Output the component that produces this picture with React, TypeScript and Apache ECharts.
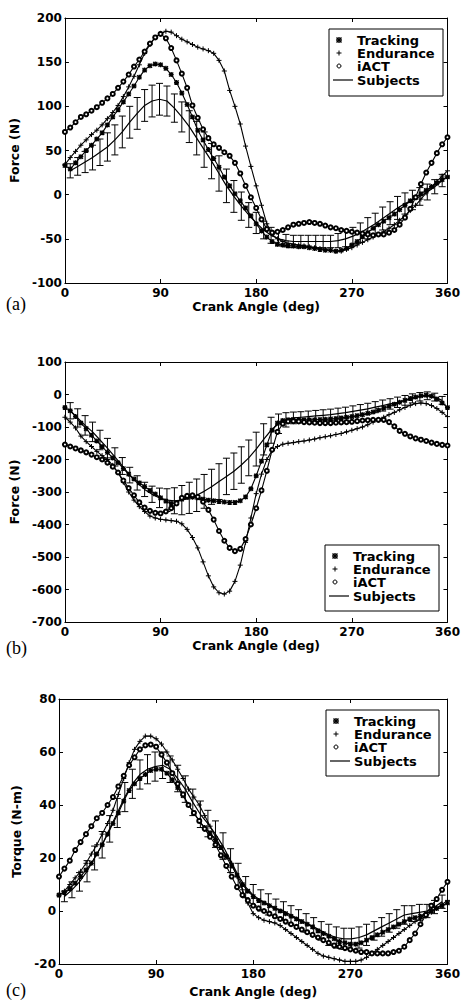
import React, { useEffect, useRef } from "react";
import * as echarts from "echarts";

// ---------- data ----------
const ANGLES = [0,5,10,15,20,25,30,35,40,45,50,55,60,65,70,75,80,85,90,95,100,105,110,115,120,125,130,135,140,145,150,155,160,165,170,175,180,185,190,195,200,205,210,215,220,225,230,235,240,245,250,255,260,265,270,275,280,285,290,295,300,305,310,315,320,325,330,335,340,345,350,355,360];
const SUBJ_ANGLES = [5,12,19,26,33,40,47,54,61,68,75,82,89,96,103,110,117,124,131,138,145,152,159,166,173,180,187,194,201,208,215,222,229,236,243,250,257,264,271,278,285,292,299,306,313,320,327,334,341,348,355];
const LEGEND_NAMES = ["Tracking", "Endurance", "iACT", "Subjects"];

// (a) Force (N), tangential
const TRACK_A = [33,29,36,43,50,56,63,70,79,88,96,105,114,123,133,141,146,148,147,143,136,127,115,102,88,73,62,51,41,31,20,10,1,-7,-15,-24,-33,-41,-48,-53,-56,-57,-58,-58,-59,-59,-60,-61,-62,-63,-63,-64,-63,-61,-57,-53,-48,-43,-38,-34,-30,-26,-22,-17,-12,-7,-3,1,5,9,13,17,20];
const ENDUR_A = [34,42,49,56,62,68,73,79,86,93,101,111,122,134,147,160,170,178,182,185,184,180,176,173,170,167,165,163,160,152,140,118,100,80,55,32,10,-12,-33,-45,-50,-53,-55,-56,-57,-58,-59,-60,-61,-62,-63,-64,-64,-62,-60,-57,-54,-51,-48,-45,-42,-38,-34,-29,-24,-18,-12,-5,2,9,15,21,27];
const IACT_A = [71,76,82,88,91,95,99,104,109,114,121,128,136,145,153,162,171,178,182,177,166,152,137,121,101,87,74,64,57,53,48,44,36,24,10,-3,-15,-28,-39,-43,-42,-40,-37,-34,-33,-32,-31,-32,-33,-35,-37,-38,-40,-41,-42,-43,-44,-45,-46,-45,-45,-43,-40,-34,-26,-16,-3,12,25,36,47,57,65];
const SUBJ_MEAN_A = [27,32,37,42,48,54,62,71,82,92,101,106,108,106,98,88,77,64,51,38,24,10,-2,-13,-23,-32,-40,-46,-50,-52,-53,-53,-53,-53,-53,-53,-52,-50,-47,-43,-38,-33,-27,-21,-15,-10,-6,-2,3,9,16];
const SUBJ_SD_A = [8,10,12,14,15,16,17,18,18,18,18,18,18,17,16,17,18,19,20,20,20,19,18,16,14,12,10,9,8,7,7,7,7,7,7,7,8,9,10,11,12,12,13,13,13,12,11,10,9,8,7];

// (b) Force (N), radial
const TRACK_B = [-40,-50,-68,-88,-105,-125,-143,-160,-178,-195,-210,-228,-245,-260,-272,-283,-295,-306,-318,-328,-335,-333,-322,-317,-316,-318,-322,-325,-327,-329,-331,-332,-332,-327,-315,-290,-250,-205,-155,-110,-88,-80,-78,-77,-77,-78,-78,-78,-77,-76,-75,-74,-72,-70,-68,-65,-62,-58,-54,-48,-42,-36,-30,-24,-18,-12,-8,-4,-2,-5,-14,-26,-40];
const ENDUR_B = [-70,-85,-103,-128,-145,-160,-175,-188,-200,-218,-240,-270,-300,-325,-345,-360,-374,-380,-384,-386,-388,-390,-398,-415,-440,-472,-515,-558,-592,-610,-614,-605,-575,-525,-455,-380,-305,-245,-200,-172,-160,-153,-150,-148,-145,-143,-140,-137,-133,-130,-127,-123,-120,-115,-110,-105,-100,-93,-85,-77,-70,-62,-55,-47,-40,-33,-28,-26,-28,-34,-43,-55,-68];
const IACT_B = [-154,-160,-166,-172,-178,-185,-193,-200,-210,-222,-240,-265,-288,-310,-332,-348,-358,-364,-366,-360,-350,-335,-318,-312,-310,-315,-330,-355,-385,-420,-450,-472,-482,-475,-445,-400,-350,-295,-235,-170,-115,-90,-83,-82,-83,-85,-86,-87,-88,-88,-88,-87,-86,-85,-84,-82,-80,-79,-78,-78,-78,-85,-98,-112,-121,-129,-135,-139,-143,-148,-152,-155,-157];
const SUBJ_MEAN_B = [-50,-72,-95,-115,-140,-165,-192,-220,-248,-272,-292,-307,-318,-325,-327,-325,-318,-310,-298,-284,-268,-252,-236,-217,-195,-168,-138,-110,-90,-78,-72,-70,-68,-66,-64,-62,-59,-56,-52,-48,-44,-39,-34,-29,-24,-18,-12,-7,-4,-8,-18];
const SUBJ_SD_B = [25,28,30,30,30,30,28,26,24,22,22,25,30,35,40,45,48,50,52,54,55,56,56,56,55,52,48,40,30,22,18,17,17,17,17,17,17,17,17,17,17,17,17,16,16,15,14,13,12,12,12];

// (c) Torque (N-m)
const TRACK_C = [6,7,8.5,10.5,13,15.5,18,21.5,25,29,33,37,41.5,45.5,48,50,51.5,53,53.5,53.5,52,49.5,46.5,43.5,40,37,34,31.5,29.5,27,24,20.5,17,13.5,10,7.5,5.5,4,3,2,1,0,-1,-2,-3,-4,-5,-6,-7.5,-8.5,-9.5,-10.5,-11.5,-12,-12.5,-12.5,-12,-11,-10,-9,-8,-7,-6,-5,-4,-3,-2.5,-2,-1,0,1,2,3];
const ENDUR_C = [6,7.5,10,12.5,15,18,21.5,25,29,33,38,44,50,56,61,64,66,66,65,63,60,57,53.5,50,46,43,40,36,32,28,24,21,18,13,8,3,-1,-2.5,-3.5,-4,-4.5,-5.5,-7,-8.5,-10,-11.5,-13,-14.5,-16,-17,-17.5,-18,-18.5,-19,-19,-19,-18.5,-17.5,-16,-14.5,-13,-11.5,-10,-8.5,-7,-5.5,-4,-3,-2,-0.5,1,2.5,4];
const IACT_C = [13,16,19,23,26,29,32,35,37,40,43,47,51,55,58,61,62.5,62.8,62,59,56,52,48,44,40,37,34,31,28,25,21,17,13,9,6,4,2,1,0,-1,-2,-3,-4,-5,-6,-7,-8,-9,-10,-11,-12,-13,-13.5,-14,-14.5,-15,-15.5,-15.5,-16,-16,-16,-16,-15.5,-15,-13.5,-11,-8.5,-5,-1.5,2,4.5,8,11];
const SUBJ_MEAN_C = [5.5,8,11,15,20,25,31,37,43,48,51.5,53.5,54.5,55,53.5,50,46,41,36.5,33,29,24.5,19,13.5,9,6,4,2.5,1,0,-1.5,-3,-4.5,-6,-7.5,-9,-10,-10.5,-10.5,-10,-9,-7.5,-6,-4.5,-3,-1.5,-1,-0.5,0,1.5,3.5];
const SUBJ_SD_C = [2,3,3.5,4,4.5,5,5,5.5,5.5,5.5,5.5,5.5,5.5,5,5,5,5,5,5,5,5,5,4.5,4.5,4,4,4,4,3.5,3.5,3.5,3.5,3.5,3.5,3.5,4,4,4,4,4,4,3.5,3.5,3.5,3.5,3.5,3,3,2.5,2.5,2.5];

const PANELS = [
  { tag: "(a)", yName: "Force (N)", yMin: -100, yMax: 200, yStep: 50, track: TRACK_A, endur: ENDUR_A, iact: IACT_A, mean: SUBJ_MEAN_A, sd: SUBJ_SD_A },
  { tag: "(b)", yName: "Force (N)", yMin: -700, yMax: 100, yStep: 100, track: TRACK_B, endur: ENDUR_B, iact: IACT_B, mean: SUBJ_MEAN_B, sd: SUBJ_SD_B },
  { tag: "(c)", yName: "Torque (N-m)", yMin: -20, yMax: 80, yStep: 20, track: TRACK_C, endur: ENDUR_C, iact: IACT_C, mean: SUBJ_MEAN_C, sd: SUBJ_SD_C },
];

// ---------- layout ----------
const LAYOUT = [
  { grid: { left: 63, top: 18, width: 389, height: 265 }, xNameGap: 17, yNameGap: 37, tagY: 304, legend: { x: 329, y: 29, w: 114, h: 67 } },
  { grid: { left: 62, top: 362, width: 390, height: 260 }, xNameGap: 17, yNameGap: 37, tagY: 648, legend: { x: 325, y: 545, w: 114, h: 66 } },
  { grid: { left: 59, top: 699, width: 389, height: 265 }, xNameGap: 21, yNameGap: 28, tagY: 990, legend: { x: 326, y: 710, w: 113, h: 66 } },
];

const FONT = "DejaVu Sans";
const SYM_STAR = "path://M0,0L10,10M10,0L0,10M5,-1L5,11M-1,5L11,5";
const SYM_PLUS = "path://M5,0L5,10M0,5L10,5";

const pairs = (xs: number[], ys: number[]) => xs.map((x, i) => [x, ys[i]]);

function legendGroup(L: { x: number; y: number; w: number; h: number }) {
  const rows = [11, 24, 37, 51];
  const cx = 10;
  const ln = (x1: number, y1: number, x2: number, y2: number, w = 1) => ({
    type: "line", shape: { x1, y1, x2, y2 }, style: { stroke: "#000", lineWidth: w },
  });
  const children: any[] = [
    { type: "rect", shape: { x: 0, y: 0, width: L.w, height: L.h }, style: { fill: "#fff", stroke: "#000", lineWidth: 1 } },
  ];
  const r0 = rows[0], r1 = rows[1], r2 = rows[2], r3 = rows[3];
  children.push(ln(cx - 2.5, r0 - 2.5, cx + 2.5, r0 + 2.5, 1.4));
  children.push(ln(cx + 2.5, r0 - 2.5, cx - 2.5, r0 + 2.5, 1.4));
  children.push(ln(cx, r0 - 3, cx, r0 + 3, 1.4));
  children.push(ln(cx - 3, r0, cx + 3, r0, 1.4));
  children.push(ln(cx - 2.5, r1, cx + 2.5, r1));
  children.push(ln(cx, r1 - 2.5, cx, r1 + 2.5));
  children.push({ type: "circle", shape: { cx, cy: r2, r: 2 }, style: { fill: "#fff", stroke: "#000", lineWidth: 1 } });
  children.push(ln(4, r3, 24, r3, 1.2));
  LEGEND_NAMES.forEach((name, i) => {
    children.push({
      type: "text", x: 28, y: rows[i],
      style: { text: name, fill: "#000", fontFamily: FONT, fontWeight: "bold", fontSize: 13, align: "left", verticalAlign: "middle" },
    });
  });
  return { type: "group", x: L.x, y: L.y, z: 100, children };
}

export default function App() {
  const ref = useRef<HTMLDivElement>(null);
  useEffect(() => {
    if (!ref.current) return;
    const chart = echarts.init(ref.current, undefined, { renderer: "svg" });
    const labelStyle = { fontFamily: FONT, fontWeight: "bold" as const, fontSize: 12, color: "#000" };
    const nameStyle = { fontFamily: FONT, fontWeight: "bold" as const, fontSize: 12.5, color: "#000" };
    const axisLine = { show: true, onZero: false, lineStyle: { color: "#000", width: 1 } };
    const tick = { show: true, inside: true, length: 4, lineStyle: { color: "#000" } };

    const grids: any[] = [];
    const xAxes: any[] = [];
    const yAxes: any[] = [];
    const series: any[] = [];
    const graphics: any[] = [];

    PANELS.forEach((p, i) => {
      const L = LAYOUT[i];
      grids.push({ ...L.grid, containLabel: false });
      xAxes.push({
        type: "value", gridIndex: i, min: 0, max: 360, interval: 90, position: "bottom",
        name: "Crank Angle (deg)", nameLocation: "middle", nameGap: L.xNameGap, nameTextStyle: nameStyle,
        axisLine, axisTick: tick, splitLine: { show: false }, axisLabel: { ...labelStyle, margin: 4 },
      });
      yAxes.push({
        type: "value", gridIndex: i, min: p.yMin, max: p.yMax, interval: p.yStep, position: "left",
        name: p.yName, nameLocation: "middle", nameGap: L.yNameGap, nameRotate: 90, nameTextStyle: nameStyle,
        axisLine, axisTick: tick, splitLine: { show: false }, axisLabel: { ...labelStyle, margin: 3 },
      });
    });
    PANELS.forEach((p, i) => {
      xAxes.push({
        type: "value", gridIndex: i, min: 0, max: 360, interval: 90, position: "top",
        axisLine, axisTick: tick, splitLine: { show: false }, axisLabel: { show: false },
      });
      yAxes.push({
        type: "value", gridIndex: i, min: p.yMin, max: p.yMax, interval: p.yStep, position: "right",
        axisLine, axisTick: tick, splitLine: { show: false }, axisLabel: { show: false },
      });
    });

    PANELS.forEach((p, i) => {
      const common = { xAxisIndex: i, yAxisIndex: i, showAllSymbol: true, silent: true };
      series.push({
        ...common, type: "line", name: "Subjects", data: pairs(SUBJ_ANGLES, p.mean),
        symbol: "none", lineStyle: { color: "#000", width: 1.2 }, z: 2,
      });
      series.push({
        ...common, type: "custom", name: "Subjects SD",
        data: SUBJ_ANGLES.map((a, k) => [a, p.mean[k] - p.sd[k], p.mean[k] + p.sd[k]]),
        encode: { x: 0, y: [1, 2] }, z: 2,
        renderItem: (_params: any, api: any) => {
          const x = api.value(0);
          const lo = api.coord([x, api.value(1)]);
          const hi = api.coord([x, api.value(2)]);
          const hw = 3.5;
          const st = { stroke: "#000", lineWidth: 1, fill: "none" };
          return {
            type: "group",
            children: [
              { type: "line", shape: { x1: lo[0], y1: lo[1], x2: hi[0], y2: hi[1] }, style: st },
              { type: "line", shape: { x1: hi[0] - hw, y1: hi[1], x2: hi[0] + hw, y2: hi[1] }, style: st },
              { type: "line", shape: { x1: lo[0] - hw, y1: lo[1], x2: lo[0] + hw, y2: lo[1] }, style: st },
            ],
          };
        },
      });
      series.push({
        ...common, type: "line", name: "Tracking", data: pairs(ANGLES, p.track),
        symbol: SYM_STAR, symbolSize: 5, lineStyle: { color: "#000", width: 1.1 },
        itemStyle: { color: "#000", borderColor: "#000", borderWidth: 1.3 }, z: 3,
      });
      series.push({
        ...common, type: "line", name: "Endurance", data: pairs(ANGLES, p.endur),
        symbol: SYM_PLUS, symbolSize: 5, lineStyle: { color: "#000", width: 1.1 },
        itemStyle: { color: "#000", borderColor: "#000", borderWidth: 1 }, z: 3,
      });
      series.push({
        ...common, type: "line", name: "iACT", data: pairs(ANGLES, p.iact),
        symbol: "emptyCircle", symbolSize: 4, lineStyle: { color: "#000", width: 1.1 },
        itemStyle: { color: "#000", borderColor: "#000", borderWidth: 1 }, z: 3,
      });
      graphics.push(legendGroup(LAYOUT[i].legend));
      graphics.push({
        type: "text", x: 6, y: LAYOUT[i].tagY, z: 100,
        style: { text: p.tag, fill: "#000", fontFamily: "Liberation Serif", fontSize: 18, align: "left", verticalAlign: "middle" },
      });
    });

    chart.setOption({
      animation: false,
      backgroundColor: "#fff",
      grid: grids,
      xAxis: xAxes,
      yAxis: yAxes,
      series,
      graphic: graphics,
    });
    return () => chart.dispose();
  }, []);
  return <div ref={ref} style={{ position: "absolute", left: 0, top: 0, width: 463, height: 1005, background: "#fff" }} />;
}
